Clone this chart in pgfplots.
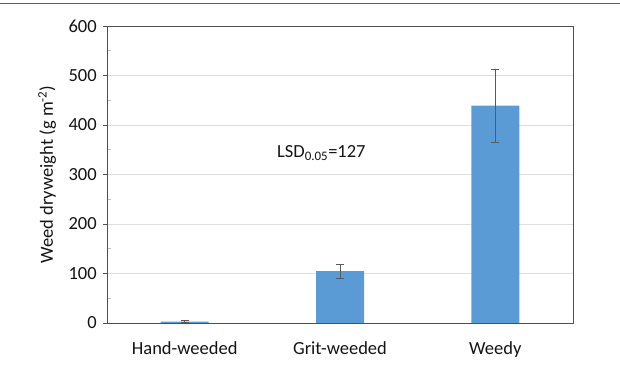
\documentclass[border=0pt]{standalone}
\usepackage{fontspec}
\setmainfont{Carlito}
\usepackage{pgfplots}
\pgfplotsset{compat=1.18}
\definecolor{barblue}{RGB}{91,155,213}
\definecolor{topline}{RGB}{50,112,138}
\definecolor{axgray}{RGB}{80,80,80}
\definecolor{errgray}{RGB}{90,90,90}
\begin{document}
\fontsize{18.5}{22}\selectfont
\begin{tikzpicture}
\path[use as bounding box] (0pt,0pt) rectangle (620pt,371pt);
\draw[topline, line width=1pt] (0pt,367pt) -- (620pt,367pt);
\begin{axis}[
  at={(107pt,48pt)}, anchor=south west,
  scale only axis, width=466pt, height=297pt,
  xmin=-0.5, xmax=2.5, ymin=0, ymax=600,
  enlargelimits=false,
  ytick={0,100,...,600},
  minor y tick num=1,
  xtick={0,1,2},
  xticklabels={Hand-weeded,Grit-weeded,Weedy},
  tickpos=left,
  tick align=outside,
  major tick length=4pt,
  minor tick length=4pt,
  xtick style={draw=none},
  ytick style={axgray, line width=0.6pt},
  minor y tick style={gray!50, xshift=4pt},
  axis line style={axgray, line width=0.8pt},
  ymajorgrids,
  major grid style={gray!25, line width=0.6pt},
  /pgf/number format/assume math mode=true,
  ticklabel style={font=\fontsize{18.5}{22}\selectfont, black!92},
  xticklabel style={yshift=-8pt},
  ylabel={Weed dryweight (g m\textsuperscript{-2})},
  ylabel style={font=\fontsize{18.5}{22}\selectfont, black!92},
]
\addplot[ybar, bar width=48pt, fill=barblue, draw=none,
  error bars/.cd, y dir=both, y explicit,
  error bar style={errgray, line width=0.6pt},
  error mark options={rotate=90, mark size=4pt, errgray, line width=0.6pt}]
  coordinates {(0,3) +- (0,2) (1,105) +- (0,14) (2,439) +- (0,74)};
\node[black!92, font=\fontsize{18.5}{22}\selectfont] at (axis cs:0.88,343) {LSD\textsubscript{0.05}=127};
\end{axis}
\end{tikzpicture}
\end{document}
